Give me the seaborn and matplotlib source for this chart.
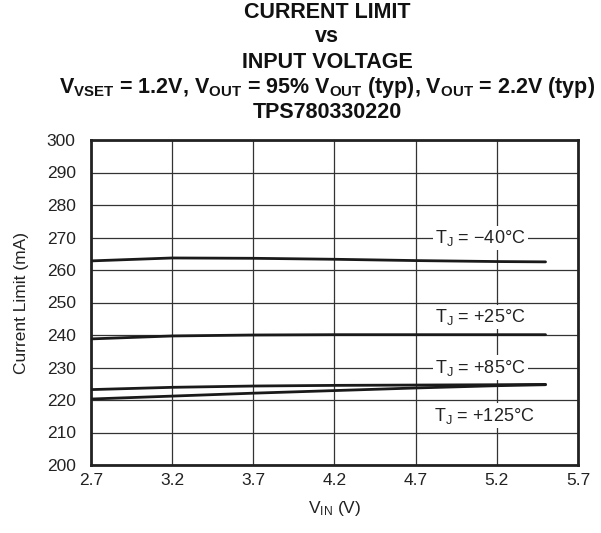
import numpy as np
import pandas as pd
import matplotlib
matplotlib.use('Agg')
import matplotlib.pyplot as plt
import seaborn as sns

# input voltage points (V)
vin = [2.7, 3.2, 3.7, 4.2, 4.7, 5.2, 5.5]

# current limit (mA) per junction temperature
ilim_m40 = [262.8, 263.7, 263.6, 263.3, 262.9, 262.6, 262.5]
ilim_p25 = [238.8, 239.7, 240.0, 240.1, 240.1, 240.1, 240.1]
ilim_p85 = [223.2, 223.9, 224.3, 224.5, 224.6, 224.7, 224.8]
ilim_p125 = [220.3, 221.2, 222.1, 222.9, 223.7, 224.4, 224.7]

temps = ['-40', '+25', '+85', '+125']
labels = [r'T$_\mathregular{J}$ = $-$40°C', r'T$_\mathregular{J}$ = +25°C',
          r'T$_\mathregular{J}$ = +85°C', r'T$_\mathregular{J}$ = +125°C']
label_pos = [(5.1, 269.8), (5.1, 245.5), (5.1, 230.0), (5.12, 215.2)]

xticks = [2.7, 3.2, 3.7, 4.2, 4.7, 5.2, 5.7]
yticks = list(range(200, 301, 10))

df = pd.DataFrame({
    'vin': vin * 4,
    'ilim': ilim_m40 + ilim_p25 + ilim_p85 + ilim_p125,
    'temp': sum([[t] * len(vin) for t in temps], []),
})

sns.set_style('white')
plt.rcParams['font.family'] = ['Liberation Sans', 'DejaVu Sans']
plt.rcParams['mathtext.fontset'] = 'custom'
plt.rcParams['mathtext.rm'] = 'Liberation Sans'
plt.rcParams['mathtext.bf'] = 'Liberation Sans:bold'
plt.rcParams['mathtext.it'] = 'Liberation Sans:italic'

fig = plt.figure(figsize=(6.01, 5.33), dpi=100)
ax = fig.add_axes([91 / 601, 1 - 465 / 533, (578 - 91) / 601, (465 - 140) / 533])

sns.lineplot(data=df, x='vin', y='ilim', hue='temp', palette=['#1a1a1a'] * 4,
             linewidth=2.0, legend=False, ax=ax, zorder=3)

ax.set_xlim(2.7, 5.7)
ax.set_ylim(200, 300)
ax.set_xticks(xticks)
ax.set_yticks(yticks)
ax.set_xticklabels([f'{t:.1f}' for t in xticks])
ax.grid(True, color='#333333', linewidth=0.9)
ax.set_axisbelow(True)
ax.tick_params(length=0, labelsize=12.5, colors='#222222', pad=6)
ax.tick_params(axis='y', pad=11)
for s in ax.spines.values():
    s.set_linewidth(2.0)
    s.set_color('#222222')
ax.set_xlabel(r'V$_\mathregular{IN}$ (V)', fontsize=12.5, color='#222222', labelpad=8)
ax.set_ylabel('Current Limit (mA)', fontsize=12.5, color='#222222', labelpad=13)

for txt, (x, y) in zip(labels, label_pos):
    ax.text(x, y, txt, fontsize=13, color='#222222', ha='center', va='center', zorder=4,
            bbox=dict(facecolor='white', edgecolor='none', pad=1.5))

cx = 327 / 601
title_lines = [
    ('CURRENT LIMIT', 12),
    ('vs', 37),
    ('INPUT VOLTAGE', 62),
    (r'V$_\mathbf{VSET}$ = 1.2V, V$_\mathbf{OUT}$ = 95% V$_\mathbf{OUT}$ (typ), V$_\mathbf{OUT}$ = 2.2V (typ)', 88),
    ('TPS780330220', 112),
]
for txt, ypx in title_lines:
    fig.text(cx, 1 - ypx / 533, txt, fontsize=15.5, fontweight='bold', ha='center', va='center',
             color='#111111')

plt.savefig('out.png', dpi=100)
